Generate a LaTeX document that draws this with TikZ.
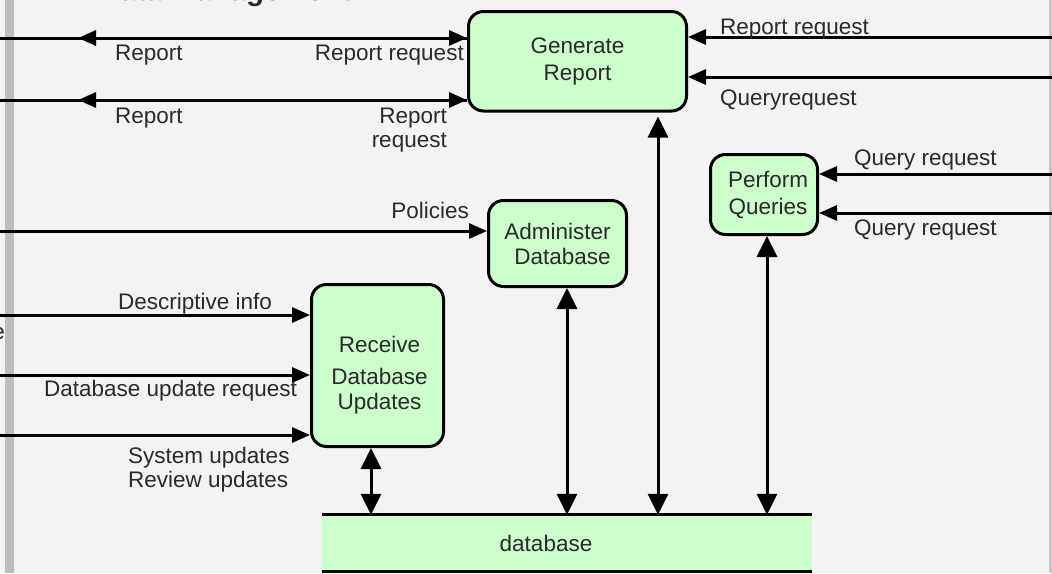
\documentclass[tikz,border=0pt]{standalone}
\usepackage{fontspec}
\setmainfont{Liberation Sans}
\usetikzlibrary{arrows.meta}
\definecolor{bg}{HTML}{F5F2F5}
\definecolor{procfill}{HTML}{CCFFCC}
\definecolor{ink}{HTML}{2A2A2A}
\definecolor{barleft}{HTML}{BDBDBD}
\definecolor{barright}{HTML}{C8C8C8}

\begin{document}
\begin{tikzpicture}[x=1pt,y=-1pt,
  proc/.style={draw=black, line width=3pt, fill=procfill, rounded corners=15pt,
    inner sep=0pt, align=center, text=ink},
  boxfont/.style={font=\fontsize{22.5}{27}\selectfont},
  lbl/.style={text=ink, font=\fontsize{22.5}{24}\selectfont, inner sep=0pt},
  flow/.style={line width=3pt, -{Triangle[length=18pt,width=15pt]}},
  dflow/.style={line width=3pt,
    {Triangle[length=21pt,width=20pt]}-{Triangle[length=21pt,width=20pt]}},
]
\useasboundingbox (0,0) rectangle (1052,573);
\clip (0,0) rectangle (1052,573);

% backdrop and frame bars
\fill[bg] (0,0) rectangle (1052,573);
\fill[barleft] (5,0) rectangle (14,573);
\fill[barright] (1049,0) rectangle (1052,573);

% section heading
\node[anchor=base west, text=ink, inner sep=0pt,
  font=\bfseries\fontsize{29.5}{30}\selectfont] (title) at (63,0.5) {4. Data Management};
\node[lbl, anchor=base east] (cut) at (5,339) {e};

% processes
\node[proc, boxfont, minimum width=218pt, minimum height=99.5pt] (gen) at (577.5,61.25) {Generate\\Report};
\node[proc, boxfont, minimum width=107pt, minimum height=80pt] (perf) at (764,194.5) {\hspace*{8pt}Perform\\\hspace*{8pt}Queries};
\node[proc, font=\fontsize{22.5}{25}\selectfont, minimum width=138pt, minimum height=86pt] (adm) at (557.5,243.5) {Administer\\\hspace*{10pt}Database};
\node[proc, minimum width=132pt, minimum height=162pt,
  label={[lbl, align=center, font=\fontsize{22.5}{25}\selectfont, xshift=2pt, yshift=-10pt]center:Receive\\[7pt]Database\\Updates}] (rcv) at (377.5,365.5) {};

% data store
\node[fill=procfill, inner sep=0pt, minimum width=490pt, minimum height=56pt,
  label={[lbl, xshift=-21pt]center:database}] (db) at (567,543) {};
\draw[line width=3pt] (db.north west) -- (db.north east);
\draw[line width=3pt] (db.south west) -- (db.south east);

% free ends at the frame edges
\coordinate (l1) at (0,38);
\coordinate (l2) at (0,100);
\coordinate (r1) at (78,38);
\coordinate (r2) at (78,100);
\coordinate (rr1) at (1052,37);
\coordinate (rr2) at (1052,77);
\coordinate (rq1) at (1052,174);
\coordinate (rq2) at (1052,213);
\coordinate (pol) at (0,231);
\coordinate (d1) at (0,315);
\coordinate (d2) at (0,375);
\coordinate (d3) at (0,435);
\coordinate (xr) at (371,0);
\coordinate (xa) at (567,0);
\coordinate (xg) at (658,0);
\coordinate (xp) at (767,0);

% report flows on the left
\draw[flow] (l1) -- (gen.west |- l1);
\draw[flow] (gen.west |- l1) -- (r1);
\draw[flow] (l2) -- (gen.west |- l2);
\draw[flow] (gen.west |- l2) -- (r2);
\node[lbl, anchor=base west] (lr1) at (115,60.5) {Report};
\node[lbl, anchor=base east] (lq1) at (464,60.5) {Report request};
\node[lbl, anchor=base west] (lr2) at (115,123.5) {Report};
\node[lbl, anchor=east, align=right] (lq2) at (447,130) {Report\\request};

% requests from the right
\draw[flow] (rr1) -- (gen.east |- rr1);
\draw[flow] (rr2) -- (gen.east |- rr2);
\draw[flow] (rq1) -- (perf.east |- rq1);
\draw[flow] (rq2) -- (perf.east |- rq2);
\node[lbl, anchor=base west] (lrr1) at (720,34.5) {Report request};
\node[lbl, anchor=base west] (lrr2) at (720,105.5) {Queryrequest};
\node[lbl, anchor=base west] (lqq1) at (854,165.5) {Query request};
\node[lbl, anchor=base west] (lqq2) at (854,235.5) {Query request};

% policies
\draw[flow] (pol) -- (adm.west |- pol);
\node[lbl, anchor=base east] (lpol) at (469,218.5) {Policies};

% update flows
\draw[flow] (d1) -- (rcv.west |- d1);
\draw[flow] (d2) -- (rcv.west |- d2);
\draw[flow] (d3) -- (rcv.west |- d3);
\node[lbl, anchor=base west] (ld1) at (118,309.5) {Descriptive info};
\node[lbl, anchor=base west] (ld2) at (44,396.5) {Database update request};
\node[lbl, anchor=west, align=left] (ld3) at (128,470) {System updates\\Review updates};

% store access
\draw[dflow] (rcv.south -| xr) -- (db.north -| xr);
\draw[dflow] (adm.south -| xa) -- (db.north -| xa);
\draw[dflow] ([yshift=-4pt]gen.south -| xg) -- (db.north -| xg);
\draw[dflow] (perf.south -| xp) -- (db.north -| xp);
\end{tikzpicture}
\end{document}
